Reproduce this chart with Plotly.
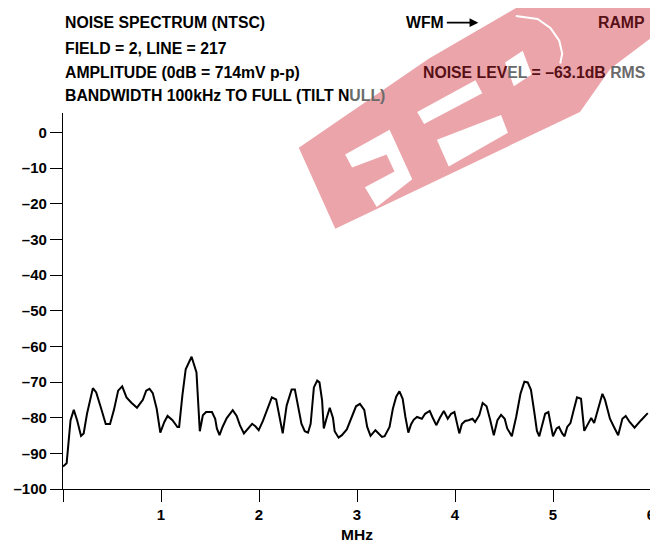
import plotly.graph_objects as go

# ---------------- data ----------------
freq_mhz = [0.0, 0.037, 0.077, 0.11, 0.144, 0.184, 0.211, 0.245, 0.305, 0.339,
            0.39, 0.436, 0.48, 0.52, 0.563, 0.604, 0.648, 0.698, 0.755, 0.815,
            0.849, 0.883, 0.916, 0.956, 0.993, 1.034, 1.067, 1.117, 1.168, 1.185,
            1.218, 1.252, 1.312, 1.362, 1.396, 1.427, 1.46, 1.52, 1.553, 1.57,
            1.597, 1.628, 1.671, 1.732, 1.772, 1.805, 1.846, 1.89, 1.93, 1.963,
            1.997, 2.04, 2.09, 2.131, 2.175, 2.215, 2.242, 2.282, 2.333, 2.366,
            2.4, 2.433, 2.467, 2.5, 2.527, 2.56, 2.594, 2.617, 2.644, 2.661,
            2.688, 2.722, 2.755, 2.772, 2.812, 2.846, 2.896, 2.947, 2.99, 3.03,
            3.074, 3.104, 3.138, 3.188, 3.222, 3.255, 3.282, 3.332, 3.366, 3.4,
            3.433, 3.466, 3.494, 3.524, 3.551, 3.578, 3.612, 3.662, 3.695, 3.742,
            3.769, 3.809, 3.846, 3.886, 3.926, 3.96, 3.994, 4.02, 4.044, 4.07,
            4.104, 4.138, 4.178, 4.205, 4.248, 4.282, 4.322, 4.356, 4.396, 4.433,
            4.47, 4.507, 4.533, 4.58, 4.624, 4.668, 4.708, 4.742, 4.775, 4.809,
            4.836, 4.86, 4.893, 4.92, 4.953, 4.977, 5.0, 5.037, 5.061, 5.094,
            5.118, 5.145, 5.178, 5.212, 5.245, 5.286, 5.319, 5.356, 5.39, 5.42,
            5.464, 5.504, 5.531, 5.581, 5.622, 5.665, 5.708, 5.742, 5.782, 5.832,
            5.899, 5.967]
noise_db = [-93.7, -92.8, -80.7, -77.8, -80.7, -85.1, -84.4, -78.9, -71.7, -72.9,
            -77.5, -81.8, -81.8, -77.8, -72.4, -71.2, -74.3, -75.8, -77.2, -75.0,
            -72.4, -71.9, -73.1, -77.5, -84.2, -81.2, -79.5, -80.7, -82.6, -82.6,
            -73.8, -66.4, -62.9, -67.3, -83.8, -79.3, -78.4, -78.4, -80.3, -83.0,
            -84.9, -82.6, -80.1, -77.9, -79.5, -82.1, -84.4, -83.0, -81.7, -82.4,
            -83.5, -80.9, -77.2, -74.3, -74.9, -80.3, -84.4, -76.6, -72.1, -72.1,
            -77.0, -81.7, -83.8, -84.2, -81.7, -71.5, -69.6, -70.1, -75.2, -83.0,
            -80.3, -77.2, -80.1, -83.8, -85.6, -84.9, -83.3, -79.8, -76.8, -76.1,
            -77.8, -82.6, -85.1, -83.5, -84.4, -85.4, -85.2, -82.6, -77.5, -74.1,
            -72.6, -74.7, -79.8, -84.2, -81.9, -80.6, -79.8, -80.3, -78.9, -78.1,
            -79.8, -82.1, -80.0, -78.1, -80.3, -78.9, -78.4, -81.2, -84.4, -81.8,
            -80.9, -80.7, -80.3, -81.2, -79.3, -75.9, -76.8, -80.3, -84.9, -80.7,
            -79.2, -80.3, -83.0, -85.2, -79.8, -73.3, -69.9, -70.1, -72.2, -78.4,
            -83.7, -85.2, -82.1, -78.9, -78.4, -81.7, -85.2, -83.0, -82.6, -84.4,
            -85.2, -82.6, -81.5, -77.8, -74.3, -74.7, -83.7, -81.8, -80.1, -81.5,
            -77.0, -73.3, -75.0, -80.3, -82.6, -84.9, -80.3, -79.5, -81.2, -82.8,
            -80.7, -78.7]

x_tickvals = [0, 1, 2, 3, 4, 5, 6]
x_ticktext = ["", "1", "2", "3", "4", "5", "6"]
y_tickvals = [0, -10, -20, -30, -40, -50, -60, -70, -80, -90, -100]
y_ticktext = ["0", "–10", "–20", "–30", "–40", "–50", "–60", "–70", "–80", "–90", "–100"]

# ---------------- figure geometry ----------------
# the page body has an 8px margin, so the figure starts at (8, 8) on screen
OFF = 8
W, H = 652, 537
ML, MR, MT, MB = 51, 5, 105, 52
PW, PH = W - ML - MR, H - MT - MB


def px(X):
    """screen pixel x -> paper x"""
    return (X - OFF - ML) / PW


def py(Y):
    """screen pixel y -> paper y"""
    return (H - MB - (Y - OFF)) / PH


FONT = "Liberation Sans, Arial, Helvetica, sans-serif"
DARKRED = "#561016"
GRAY = "#6a6a6a"

fig = go.Figure()
fig.add_trace(go.Scatter(x=freq_mhz, y=noise_db, mode="lines",
                         line=dict(color="black", width=2),
                         hoverinfo="skip", showlegend=False))

axis_common = dict(showgrid=False, zeroline=False, showline=True,
                   linecolor="black", linewidth=1.3, ticks="outside",
                   ticklen=12, tickwidth=1.3, tickcolor="black",
                   ticklabeloverflow="allow",
                   tickfont=dict(family=FONT, size=15, color="black", weight="bold"))

fig.update_xaxes(range=[0, 6], tickmode="array", tickvals=x_tickvals,
                 ticktext=x_ticktext,
                 title=dict(text="MHz", standoff=6,
                            font=dict(family=FONT, size=15.5, color="black", weight="bold")),
                 **axis_common)
fig.update_yaxes(range=[-100, 5.47], tickmode="array", tickvals=y_tickvals,
                 ticktext=y_ticktext, **axis_common)

# ---------------- watermark (decorative logo approximation) ----------------
def path_from(points, close=True):
    s = "M " + " L ".join(f"{px(a):.5f},{py(b):.5f}" for a, b in points)
    return s + (" Z" if close else "")


pink = [(298, 148), (430, 58), (530, 0), (662, 0), (662, 32), (614, 68),
        (583, 112), (335, 230)]
holes = [
    [(345, 155), (390, 130), (413, 180), (377, 208), (365, 188), (395, 172),
     (387, 155), (352, 168)],
    [(418, 112), (477, 80), (484, 93), (425, 124)],
    [(438, 140), (503, 115), (510, 133), (450, 167)],
    [(507, 62), (525, 50), (534, 74), (516, 86)],
]
shapes = [dict(type="path", xref="paper", yref="paper", path=path_from(pink),
               fillcolor="#eba5aa", line=dict(width=0), layer="below")]
for h in holes:
    shapes.append(dict(type="path", xref="paper", yref="paper", path=path_from(h),
                       fillcolor="white", line=dict(width=0), layer="below"))
arc = [(518, 15), (540, 18), (553, 27), (562, 40), (565, 53), (563, 63)]
shapes.append(dict(type="path", xref="paper", yref="paper",
                   path=path_from(arc, close=False),
                   line=dict(color="white", width=2), layer="below"))

# ---------------- annotations ----------------
ann_font = dict(family=FONT, size=15.8, color="black", weight="bold")
left_lines = [
    ("NOISE SPECTRUM (NTSC)", 21.7),
    ("FIELD = 2, LINE = 217", 47.5),
    ("AMPLITUDE (0dB = 714mV p-p)", 71.7),
    (f"BANDWIDTH 100kHz TO FULL (TILT N<span style='color:{GRAY}'>ULL)</span>", 95.0),
]
annotations = []
for txt, yy in left_lines:
    annotations.append(dict(text=txt, x=px(59), y=py(yy), xref="paper", yref="paper",
                            xanchor="left", yanchor="middle", showarrow=False,
                            font=ann_font))
annotations.append(dict(text="WFM", x=px(405), y=py(21.7), xref="paper", yref="paper",
                        xanchor="left", yanchor="middle", showarrow=False, font=ann_font))
annotations.append(dict(text="", x=px(480), y=py(21.7), xref="paper", yref="paper",
                        showarrow=True, ax=-33, ay=0, arrowhead=2, arrowsize=1.1,
                        arrowwidth=1.6, arrowcolor="black"))
annotations.append(dict(text="RAMP", x=px(651), y=py(21.7), xref="paper", yref="paper",
                        xanchor="right", yanchor="middle", showarrow=False,
                        font=dict(ann_font, color=DARKRED)))
annotations.append(dict(
    text=(f"NOISE LEV<span style='color:{GRAY}'>EL</span> = –63.1dB "
          f"<span style='color:{GRAY}'>RMS</span>"),
    x=px(651), y=py(71.7), xref="paper", yref="paper",
    xanchor="right", yanchor="middle", showarrow=False,
    font=dict(ann_font, color=DARKRED)))

fig.update_layout(width=W, height=H, margin=dict(l=ML, r=MR, t=MT, b=MB),
                  paper_bgcolor="white", plot_bgcolor="rgba(0,0,0,0)",
                  shapes=shapes, annotations=annotations, showlegend=False)

fig.write_html("out.html")
